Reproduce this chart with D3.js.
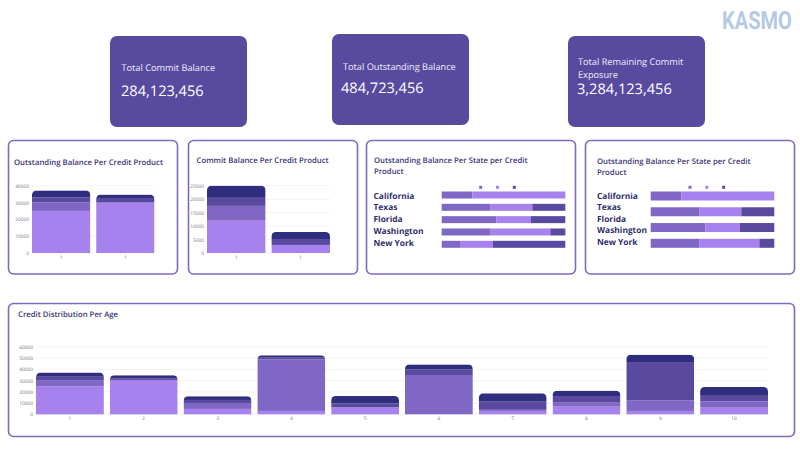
<!DOCTYPE html>
<html><head><meta charset="utf-8">
<script src="https://cdn.jsdelivr.net/npm/d3@7"></script>
<style>html,body{margin:0;padding:0;background:#fff}svg{display:block}text{font-family:"Open Sans",sans-serif;text-rendering:geometricPrecision}</style>
</head><body><svg id="c" width="800" height="450"></svg>
<script>
const seriesKeys = ["light","mid","dark","navy"];
const kpiLabels = [["Total Commit Balance"],["Total Outstanding Balance"],["Total Remaining Commit","Exposure"]];
const kpiValues = ["284,123,456","484,723,456","3,284,123,456"];
const productLabels = ["1","1"];
const outLight=[25000,30000], outMid=[5000,0], outDark=[3000,2700], outNavy=[4200,2000];
const comLight=[12000,3000], comMid=[5500,0], comDark=[3000,2200], comNavy=[4500,2600];
const outTicks=[0,10000,20000,30000,40000], comTicks=[0,5000,10000,15000,20000,25000];
const ageLabels=["1","2","3","4","5","6","7","8","9","10"];
const ageLight=[25000,30600,4800,3000,6200,0,3000,6800,3000,5900];
const ageMid=[5500,0,5300,46000,0,35000,1000,3600,9500,5700];
const ageDark=[3000,1500,2700,1500,3500,5000,7300,5900,34100,5600];
const ageNavy=[3700,2700,3300,2100,6600,4500,7400,4800,6600,7200];
const ageTicks=[0,10000,20000,30000,40000,50000,60000];
const states=["California","Texas","Florida","Washington","New York"];
const stateMidA=[24.8,39.6,44.2,39.6,15.4], stateLightA=[75.2,33.7,28,48.3,26.1], stateDarkA=[0,26.7,27.8,12.1,58.5];
const rowsB=["California","Texas","Florida","Washington"];
const stateMidB=[24.8,39.6,44.2,39.6], stateLightB=[75.2,33.7,28,48.3], stateDarkB=[0,26.7,27.8,12.1];
const colors={light:"#a782ee",mid:"#8067c6",dark:"#5a4a9f",navy:"#2f2d7e"};

const svg=d3.select("#c");
const defs=svg.append("defs");
let clipId=0;
const titleCol="#3b3577";

function panel(x,y,w,h){svg.append("rect").attr("x",x).attr("y",y).attr("width",w).attr("height",h).attr("rx",5)
  .attr("fill","#fff").attr("stroke","#7f6ac0").attr("stroke-width",1.6);}
function title(lines,x,y,lh){lines.forEach((t,i)=>svg.append("text").attr("x",x).attr("y",y+i*lh).attr("dominant-baseline","central")
  .attr("font-size",7.75).attr("font-weight",600).attr("fill",titleCol).text(t));}

function kpi(x,y,lines,value,lx,ly,vx,vy){
  svg.append("rect").attr("x",x).attr("y",y).attr("width",137).attr("height",91).attr("rx",7).attr("fill","#574a9f");
  lines.forEach((t,i)=>svg.append("text").attr("x",lx).attr("y",ly+i*12.5).attr("dominant-baseline","central")
    .attr("font-size",9.2).attr("font-weight",500).attr("fill","#f0eefb").text(t));
  svg.append("text").attr("x",vx).attr("y",vy).attr("dominant-baseline","central").attr("font-size",14.6).attr("font-weight",500).attr("fill","#fff").text(value);
}
function stackedColumns(o){
  const rows=o.labels.map((l,i)=>({i,light:o.light[i],mid:o.mid[i],dark:o.dark[i],navy:o.navy[i]}));
  const x=d3.scaleBand().domain(d3.range(o.labels.length)).range([o.x0,o.x1]).paddingInner(o.pad);
  const y=d3.scaleLinear().domain([0,d3.max(o.ticks)]).range([o.y0,o.y1]);
  const g=svg.append("g");
  g.append("g").selectAll("line").data(o.ticks).join("line").attr("x1",o.x0).attr("x2",o.x1)
    .attr("y1",d=>y(d)).attr("y2",d=>y(d)).attr("stroke","#eef0f3").attr("stroke-width",.8);
  const ay=g.append("g").attr("transform",`translate(${o.x0-2},0)`).call(d3.axisLeft(y).tickValues(o.ticks).tickSize(0).tickPadding(1).tickFormat(d3.format("d")));
  ay.select(".domain").remove();
  ay.selectAll("text").attr("font-size",4.8).attr("fill","#75757f").style("font-family","Open Sans");
  const ax=g.append("g").attr("transform",`translate(0,${o.y0})`).call(d3.axisBottom(x).tickSize(0).tickPadding(2.5).tickFormat(i=>o.labels[i]));
  ax.select(".domain").remove();
  ax.selectAll("text").attr("font-size",4.8).attr("fill","#75757f").style("font-family","Open Sans");
  const stack=d3.stack().keys(seriesKeys)(rows);
  rows.forEach(r=>{
    const id="clip"+(clipId++);
    const total=r.light+r.mid+r.dark+r.navy;
    defs.append("clipPath").attr("id",id).append("rect").attr("x",x(r.i)).attr("y",y(total))
      .attr("width",x.bandwidth()).attr("height",o.y0-y(total)+8).attr("rx",4.5);
    const bar=g.append("g").attr("clip-path",`url(#${id})`);
    stack.forEach(s=>{
      const d=s[r.i];
      bar.append("rect").attr("x",x(r.i)).attr("width",x.bandwidth()).attr("y",y(d[1]))
        .attr("height",Math.max(0,y(d[0])-y(d[1]))).attr("fill",colors[s.key]);
    });
  });
}
function hbars(o){
  const x=d3.scaleLinear().domain([0,100]).range([o.x0,o.x1]);
  const rowY=d3.scalePoint().domain(o.rows).range(o.rowRange);
  const labelY=d3.scalePoint().domain(states).range(o.labelRange);
  const g=svg.append("g");
  states.forEach(s=>g.append("text").attr("x",o.lx).attr("y",labelY(s)).attr("dominant-baseline","central")
    .attr("font-size",8.4).attr("font-weight",700).attr("fill","#2f2d6e").text(s));
  o.rows.forEach((r,i)=>{
    let acc=0;
    [["mid",o.mid[i]],["light",o.light[i]],["dark",o.dark[i]]].forEach(([k,v])=>{
      g.append("rect").attr("x",x(acc)).attr("width",x(acc+v)-x(acc)).attr("y",rowY(r)-o.bh/2).attr("height",o.bh).attr("fill",colors[k]);
      acc+=v;
    });
  });
  ["mid","light","dark"].forEach((k,i)=>g.append("rect").attr("x",o.legendX+i*16.8-1.5).attr("y",185.8).attr("width",3).attr("height",3).attr("fill",colors[k]));
}

svg.append("text").attr("transform","translate(722,21) scale(0.8,1)").attr("dominant-baseline","central").attr("font-size",25).attr("font-weight",700)
  .style("font-family","Roboto").attr("fill","#b6c9e3").text("KASMO");
kpi(110,36,kpiLabels[0],kpiValues[0],121.5,67.5,121,90.5);
kpi(332,34,kpiLabels[1],kpiValues[1],343,66,341,88);
kpi(568,36,kpiLabels[2],kpiValues[2],578,61.5,577,89);

panel(8.5,140.5,169,133.5); title(["Outstanding Balance Per Credit Product"],14,163,0);
stackedColumns({labels:productLabels,light:outLight,mid:outMid,dark:outDark,navy:outNavy,ticks:outTicks,x0:32,x1:154.5,y0:253,y1:185.7,pad:.09});
panel(188.5,140.5,169,133.5); title(["Commit Balance Per Credit Product"],196.5,161,0);
stackedColumns({labels:productLabels,light:comLight,mid:comMid,dark:comDark,navy:comNavy,ticks:comTicks,x0:207,x1:330,y0:253,y1:185.7,pad:.09});
panel(366.5,140.5,209,133.5); title(["Outstanding Balance Per State per Credit","Product"],374,161,11);
hbars({rows:states,mid:stateMidA,light:stateLightA,dark:stateDarkA,x0:441.7,x1:565.3,rowRange:[195,244.3],bh:7,lx:373.5,labelRange:[196,243],legendX:480.7});
panel(585.5,140.5,209,133.5); title(["Outstanding Balance Per State per Credit","Product"],597,162,11);
hbars({rows:rowsB,mid:stateMidB,light:stateLightB,dark:stateDarkB,x0:650.7,x1:774.3,rowRange:[196,243.3],bh:9,lx:597,labelRange:[196,242],legendX:690});
panel(8.5,303.5,786,133); title(["Credit Distribution Per Age"],18,314.5,0);
stackedColumns({labels:ageLabels,light:ageLight,mid:ageMid,dark:ageDark,navy:ageNavy,ticks:ageTicks,x0:36,x1:768,y0:414.3,y1:347,pad:.08});
</script></body></html>
